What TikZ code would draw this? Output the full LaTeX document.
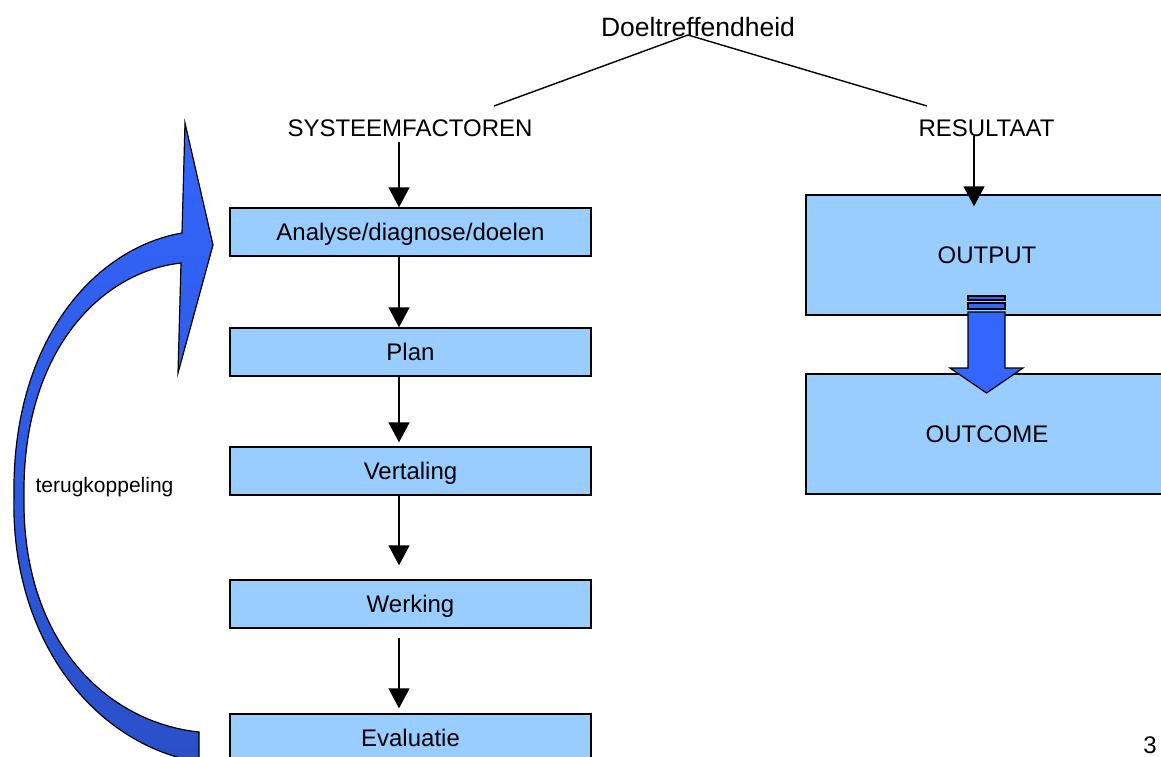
\documentclass[tikz,border=0pt]{standalone}
\usepackage{fontspec}
\setmainfont{Liberation Sans}
\usetikzlibrary{arrows.meta}
\definecolor{boxblue}{HTML}{99CCFF}
\definecolor{arrblue}{HTML}{3366FF}
\definecolor{arrdark}{HTML}{2A50C8}
\begin{document}
\begin{tikzpicture}[x=1pt,y=-1pt,
  stepbox/.style={draw=black, line width=1.4pt, fill=boxblue, minimum width=361pt,
    minimum height=48pt, inner sep=0pt, text height=17.2pt, text depth=0pt,
    font=\fontsize{24}{28}\selectfont},
  bigbox/.style={stepbox, minimum width=362pt, minimum height=120pt},
  lbl/.style={inner sep=0pt, anchor=base, font=\fontsize{24}{28}\selectfont},
  arr/.style={line width=1.4pt, -{Triangle[width=21pt,length=20pt]}},
  fatarrow/.style={draw=black, line width=1.2pt, fill=arrblue, line join=miter}
]
\useasboundingbox (0,0) rectangle (1161,756);

% labels
\node[lbl, font=\fontsize{26.5}{30}\selectfont] (doel) at (698,36) {Doeltreffendheid};
\node[lbl] (sys) at (410,136) {SYSTEEMFACTOREN};
\node[lbl] (res) at (986.5,136) {RESULTAAT};
\node[lbl, font=\fontsize{21}{25}\selectfont] (terug) at (104.5,492) {terugkoppeling};
\node[lbl] (num) at (1150,753) {3};

% tree lines
\coordinate (apex) at (688,35);
\coordinate (lend) at (494,106);
\coordinate (rend) at (927,106);
\draw[line width=1.4pt] (lend) -- (apex) -- (rend);

% left column boxes
\node[stepbox] (ana) at (410.5,232) {Analyse/diagnose/doelen};
\node[stepbox] (plan) at (410.5,352) {Plan};
\node[stepbox] (ver) at (410.5,471) {Vertaling};
\node[stepbox] (wer) at (410.5,604) {Werking};
\node[stepbox] (eva) at (410.5,738) {Evaluatie};

% right boxes
\node[bigbox] (out) at (987,255) {OUTPUT};
\node[bigbox] (outc) at (987,434) {OUTCOME};

% column connectors
\coordinate (c) at (399,0);
\coordinate (rc) at (974,0);
\draw[arr, shorten <=6pt] (sys.south -| c) -- (ana.north -| c);
\draw[arr] (ana.south -| c) -- (plan.north -| c);
\draw[arr, shorten >=4pt] (plan.south -| c) -- (ver.north -| c);
\draw[arr, shorten >=14pt] (ver.south -| c) -- (wer.north -| c);
\draw[arr, shorten <=9pt, shorten >=5pt] (wer.south -| c) -- (eva.north -| c);
\draw[arr, shorten >=-12pt] (res.south -| rc) -- (out.north -| rc);

% block arrow OUTPUT -> OUTCOME
\draw[fatarrow] (968,296) rectangle (1005,300);
\draw[fatarrow] (968,303) rectangle (1005,309);
\draw[fatarrow] (968,312) -- (1005,312) -- (1005,368) -- (1023,368) -- (986.5,393)
  -- (950,368) -- (968,368) -- cycle;

% curved feedback arrow
\draw[draw=black, line width=1.2pt, top color=arrblue, bottom color=arrdark, line join=miter]
  (182,233) .. controls (95,248) and (12,340) .. (14,495)
  .. controls (10,640) and (95,745) .. (199,762)
  -- (199,732)
  .. controls (105,722) and (22,640) .. (24,497)
  .. controls (22,352) and (100,272) .. (181,263)
  -- (178,373) -- (213,245) -- (185,123) -- cycle;
\end{tikzpicture}
\end{document}
